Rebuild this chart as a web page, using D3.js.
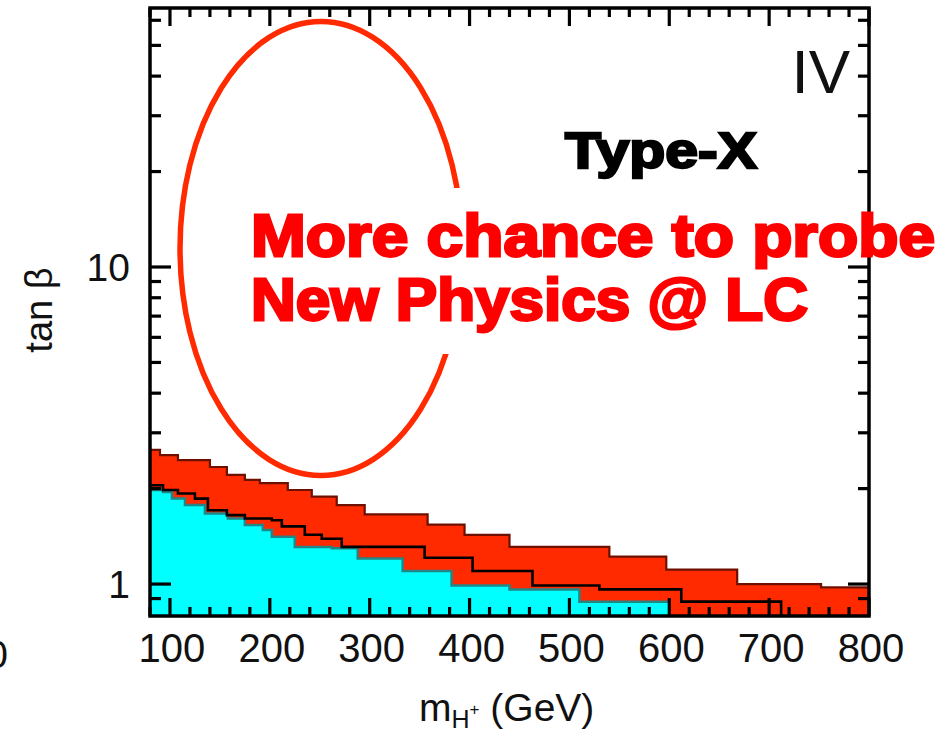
<!DOCTYPE html>
<html>
<head>
<meta charset="utf-8">
<script src="https://cdn.jsdelivr.net/npm/d3@7"></script>
<style>
  body { margin: 0; background: #fff; }
  svg { display: block; font-family: "Liberation Sans", Arial, Helvetica, sans-serif; }
</style>
</head>
<body>
<div id="chart"></div>
<script>
// upper edge of the red (excluded) band, step function
const upperMass = [80, 90, 108, 140, 157, 175, 190, 218, 242, 267, 295, 358, 395, 440, 540, 597, 668, 752, 800];
const upperTanb = [2.65, 2.55, 2.46, 2.34, 2.21, 2.13, 2.08, 1.98, 1.886, 1.775, 1.66, 1.54, 1.43, 1.31, 1.22, 1.11, 1.0, 0.976, 0.976];

// black central line
const middleMass = [80, 93, 108, 125, 138, 157, 175, 202, 212, 235, 252, 272, 355, 403, 463, 530, 612, 712];
const middleTanb = [2.05, 1.98, 1.93, 1.86, 1.71, 1.65, 1.61, 1.59, 1.52, 1.43, 1.39, 1.31, 1.21, 1.10, 0.99, 0.962, 0.88, 0.78];

// cyan region upper edge
const cyanMass = [80, 93, 102, 115, 135, 158, 175, 193, 202, 225, 262, 288, 333, 382, 440, 510, 600];
const cyanTanb = [1.98, 1.95, 1.86, 1.775, 1.67, 1.61, 1.535, 1.48, 1.41, 1.31, 1.296, 1.205, 1.10, 0.99, 0.962, 0.88, 0.88];

const xMajorTicks = [100, 200, 300, 400, 500, 600, 700, 800];
const yMajorTicks = [1, 10];
const yMinorTicks = [0.9, 2, 3, 4, 5, 6, 7, 8, 9, 20, 30, 40, 50, 60];

const W = 946, H = 731;
const plot = { left: 150, right: 869, top: 8, bottom: 616 };

const svg = d3.select("#chart")
  .append("svg")
  .attr("width", W)
  .attr("height", H);

const x = d3.scaleLinear().domain([80, 800]).range([plot.left, plot.right]);
const y = d3.scaleLog().domain([0.793, 65.6]).range([plot.bottom, plot.top]);

svg.append("clipPath").attr("id", "clip")
  .append("rect")
  .attr("x", plot.left).attr("y", plot.top)
  .attr("width", plot.right - plot.left).attr("height", plot.bottom - plot.top);

const zip = (a, b) => a.map((m, i) => [m, b[i]]);
const upper = zip(upperMass, upperTanb);
const middle = zip(middleMass, middleTanb);
const cyan = zip(cyanMass, cyanTanb);

const area = d3.area()
  .x(d => x(d[0]))
  .y0(plot.bottom)
  .y1(d => y(d[1]))
  .curve(d3.curveStepAfter);

const line = d3.line()
  .x(d => x(d[0]))
  .y(d => y(d[1]))
  .curve(d3.curveStepAfter);

const g = svg.append("g").attr("clip-path", "url(#clip)");

g.append("path").datum(upper).attr("d", area).attr("fill", "#ff2a00");
g.append("path").datum(upper).attr("d", line)
  .attr("fill", "none").attr("stroke", "#6e1000").attr("stroke-width", 2.2);

g.append("path").datum(cyan).attr("d", area).attr("fill", "#00ffff");
g.append("path").datum(cyan).attr("d", line)
  .attr("fill", "none").attr("stroke", "#238585").attr("stroke-width", 2.5);

g.append("path").datum(middle).attr("d", line)
  .attr("fill", "none").attr("stroke", "#000").attr("stroke-width", 2.6);

// frame
svg.append("rect")
  .attr("x", plot.left).attr("y", plot.top)
  .attr("width", plot.right - plot.left).attr("height", plot.bottom - plot.top)
  .attr("fill", "none").attr("stroke", "#000").attr("stroke-width", 3.5);

// x ticks, inward on bottom and top
const xMinorTicks = d3.range(80, 801, 20).filter(v => v % 100 !== 0);
const ticks = svg.append("g").attr("stroke", "#000").attr("stroke-width", 3.2);
[[xMajorTicks, 18], [xMinorTicks, 9]].forEach(([vals, len]) => {
  vals.forEach(v => {
    ticks.append("line").attr("x1", x(v)).attr("x2", x(v))
      .attr("y1", plot.bottom).attr("y2", plot.bottom - len);
    ticks.append("line").attr("x1", x(v)).attr("x2", x(v))
      .attr("y1", plot.top).attr("y2", plot.top + len);
  });
});
[[yMajorTicks, 21], [yMinorTicks, 11]].forEach(([vals, len]) => {
  vals.forEach(v => {
    ticks.append("line").attr("y1", y(v)).attr("y2", y(v))
      .attr("x1", plot.left).attr("x2", plot.left + len);
    ticks.append("line").attr("y1", y(v)).attr("y2", y(v))
      .attr("x1", plot.right).attr("x2", plot.right - len);
  });
});

// tick labels
svg.append("g").selectAll("text").data(xMajorTicks).join("text")
  .attr("x", d => x(d) + 2)
  .attr("y", 662)
  .attr("text-anchor", "middle")
  .attr("font-size", 40)
  .attr("fill", "#111")
  .text(d => d);

svg.append("g").selectAll("text").data(yMajorTicks).join("text")
  .attr("x", 130)
  .attr("y", d => y(d) + 14)
  .attr("text-anchor", "end")
  .attr("font-size", 39)
  .attr("fill", "#111")
  .text(d => d);

// cut-off label from the neighbouring panel
svg.append("text")
  .attr("x", 8).attr("y", 668)
  .attr("text-anchor", "end")
  .attr("font-size", 39)
  .attr("fill", "#111")
  .text("0");

// axis titles
const xt = svg.append("text")
  .attr("x", 419).attr("y", 721)
  .attr("font-size", 39)
  .attr("fill", "#111");
xt.append("tspan").text("m");
xt.append("tspan").attr("font-size", 25).attr("dy", 7).text("H");
xt.append("tspan").attr("font-size", 17).attr("dy", -13).text("+");
xt.append("tspan").attr("dy", 6).text(" (GeV)");

svg.append("text")
  .attr("transform", "translate(52,310) rotate(-90)")
  .attr("text-anchor", "middle")
  .attr("font-size", 38)
  .attr("fill", "#111")
  .text("tan β");

// panel number
svg.append("text")
  .attr("x", 850).attr("y", 93)
  .attr("text-anchor", "end")
  .attr("font-size", 62)
  .attr("fill", "#111")
  .text("IV");

svg.append("text")
  .attr("x", 565).attr("y", 168)
  .attr("font-size", 50)
  .attr("font-weight", "bold")
  .attr("fill", "#000").attr("stroke", "#000").attr("stroke-width", 2.4)
  .attr("textLength", 192).attr("lengthAdjust", "spacingAndGlyphs")
  .text("Type-X");

// highlight ellipse, partly covered by the annotation box
svg.append("ellipse")
  .attr("cx", 321).attr("cy", 248.5)
  .attr("rx", 141).attr("ry", 227)
  .attr("fill", "none").attr("stroke", "#ff2a00").attr("stroke-width", 5.5);

svg.append("rect")
  .attr("x", 240).attr("y", 188)
  .attr("width", 605).attr("height", 166)
  .attr("fill", "#fff");

const note = svg.append("g")
  .attr("font-size", 60)
  .attr("font-weight", "bold")
  .attr("fill", "#ff0000").attr("stroke", "#ff0000").attr("stroke-width", 2.8);
note.append("text").attr("x", 251).attr("y", 256)
  .attr("textLength", 684).attr("lengthAdjust", "spacingAndGlyphs")
  .text("More chance to probe");
note.append("text").attr("x", 251).attr("y", 320)
  .attr("textLength", 557).attr("lengthAdjust", "spacingAndGlyphs")
  .text("New Physics @ LC");
</script>
</body>
</html>
